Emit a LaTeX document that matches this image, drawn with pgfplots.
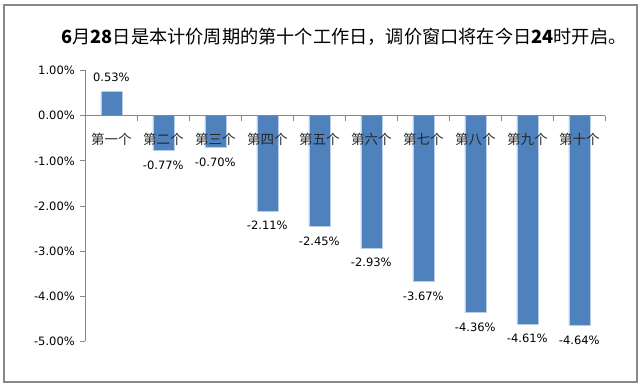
\documentclass[border=0pt]{standalone}
\usepackage{fontspec}
\setmainfont{DejaVu Sans}
\newfontfamily\cjk{Noto Sans CJK SC}
\usepackage{pgfplots}
\pgfplotsset{compat=1.18}
\definecolor{barblue}{RGB}{79,129,189}
\definecolor{baredge}{RGB}{185,205,229}
\definecolor{axgray}{RGB}{134,134,134}
\definecolor{framegray}{RGB}{136,136,136}
\begin{document}
\begin{tikzpicture}[x=1pt,y=1pt]
\useasboundingbox (0,0) rectangle (642,387);
\draw[framegray, line width=2.5pt] (4,5) rectangle (637,382);
\node[font=\cjk\fontsize{18.2}{21}\selectfont] at (344,350) {{\bfseries 6}月{\bfseries 28}日是本计价周期的第十个工作日，调价窗口将在今日{\bfseries 24}时开启。};
\begin{axis}[
  at={(85.3pt,45.5pt)}, anchor=south west,
  scale only axis, width=520pt, height=271pt,
  xmin=-0.5, xmax=9.5, ymin=-5, ymax=1,
  axis x line*=middle, axis y line*=left,
  axis on top,
  axis line style={axgray, line width=0.8pt},
  /pgf/number format/assume math mode=true,
  ytick={-5,-4,...,1},
  yticklabel={\pgfmathprintnumber[fixed,fixed zerofill,precision=2]{\tick}\%},
  yticklabel style={font=\fontsize{11.5}{13}\selectfont, xshift=-2pt},
  xtick={0,...,9},
  xticklabels={第一个,第二个,第三个,第四个,第五个,第六个,第七个,第八个,第九个,第十个},
  xticklabel style={font=\cjk\fontsize{13.5}{15}\selectfont, yshift=-9pt, text=black!85},
  major x tick style={draw=none},
  minor xtick={-0.5,0.5,...,9.5},
  minor x tick style={axgray, line width=0.8pt},
  minor tick length=5pt,
  major tick length=5pt,
  tick align=outside,
  y tick style={axgray, line width=0.8pt},
  ybar, bar width=21pt,
  nodes near coords={\pgfmathprintnumber[fixed,fixed zerofill,precision=2]{\pgfplotspointmeta}\%},
  nodes near coords style={font=\fontsize{11.5}{13}\selectfont, text=black, inner sep=10pt},
  nodes near coords align={vertical},
  clip=false,
]
\addplot[fill=barblue, draw=baredge, line width=0.6pt] coordinates {
(0,0.53) (1,-0.77) (2,-0.70) (3,-2.11) (4,-2.45) (5,-2.93) (6,-3.67) (7,-4.36) (8,-4.61) (9,-4.64)};
\end{axis}
\end{tikzpicture}
\end{document}
